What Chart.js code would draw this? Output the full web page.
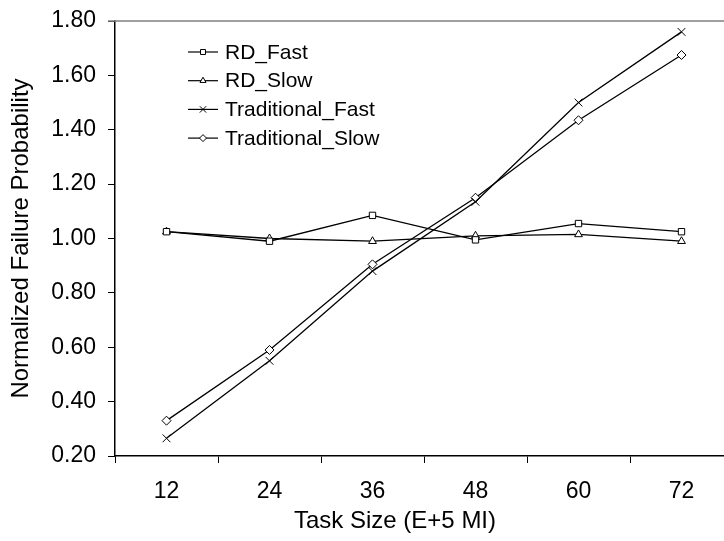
<!DOCTYPE html>
<html>
<head>
<meta charset="utf-8">
<script src="https://cdn.jsdelivr.net/npm/chart.js@4/dist/chart.umd.min.js"></script>
<style>
  html, body { margin: 0; padding: 0; background: #fff; overflow: hidden; }
  #wrap { width: 745px; height: 541px; }
</style>
</head>
<body>
<div id="wrap"><canvas id="failChart" width="745" height="541"></canvas></div>
<script>
// task sizes (E+5 MI)
const taskSizes = ["12", "24", "36", "48", "60", "72"];

const rdFast = [1.025, 0.99, 1.085, 0.995, 1.055, 1.025];
const rdSlow = [1.025, 1.00, 0.99, 1.01, 1.015, 0.99];
const tradFast = [0.265, 0.55, 0.88, 1.135, 1.50, 1.76];
const tradSlow = [0.33, 0.59, 0.905, 1.15, 1.435, 1.675];

const seriesNames = ["RD_Fast", "RD_Slow", "Traditional_Fast", "Traditional_Slow"];
const seriesMarks = ["rect", "triangle", "crossRot", "rectRot"];
const markSize = [4.5, 4.5, 5.5, 4.5];

const yTicks = [0.2, 0.4, 0.6, 0.8, 1.0, 1.2, 1.4, 1.6, 1.8];

const FONT = "'Liberation Sans', Arial, sans-serif";

function makeSet(i, data) {
  return {
    label: seriesNames[i],
    data: data,
    borderColor: "#000",
    borderWidth: 1.3,
    backgroundColor: "#fff",
    pointStyle: seriesMarks[i],
    pointRadius: markSize[i],
    pointBorderColor: "#000",
    pointBackgroundColor: "#fff",
    pointBorderWidth: 1,
    tension: 0,
    fill: false
  };
}

// gray frame on top/right, legend box and x title
const extras = {
  id: "extras",
  beforeDatasetsDraw(chart) {
    const ctx = chart.ctx, a = chart.chartArea;
    ctx.save();
    ctx.strokeStyle = "#808080";
    ctx.lineWidth = 1.5;
    ctx.beginPath();
    ctx.moveTo(a.left - 7, a.top);
    ctx.lineTo(a.right, a.top);
    ctx.lineTo(a.right, a.bottom);
    ctx.stroke();
    ctx.restore();
  },
  afterDraw(chart) {
    const ctx = chart.ctx, a = chart.chartArea;
    ctx.save();
    ctx.font = "21px " + FONT;
    ctx.fillStyle = "#000";
    ctx.textBaseline = "middle";
    const x0 = a.left + 73;
    chart.data.datasets.forEach((ds, i) => {
      const y = a.top + 31 + i * 28.7;
      ctx.strokeStyle = "#000";
      ctx.lineWidth = 1.2;
      ctx.beginPath();
      ctx.moveTo(x0, y);
      ctx.lineTo(x0 + 30, y);
      ctx.stroke();
      ctx.fillStyle = "#fff";
      ctx.lineWidth = 1;
      Chart.helpers.drawPoint(ctx, { pointStyle: ds.pointStyle, radius: ds.pointRadius - 1, borderWidth: 1 }, x0 + 15, y);
      ctx.fillStyle = "#000";
      ctx.fillText(ds.label, x0 + 37, y + 1);
    });
    ctx.font = "24px " + FONT;
    ctx.textAlign = "center";
    ctx.fillText("Task Size (E+5 MI)", 395, 521);
    ctx.restore();
  }
};

new Chart(document.getElementById("failChart"), {
  type: "line",
  data: {
    labels: taskSizes,
    datasets: [makeSet(0, rdFast), makeSet(1, rdSlow), makeSet(2, tradFast), makeSet(3, tradSlow)]
  },
  options: {
    responsive: false,
    animation: false,
    layout: { padding: { left: 0, top: 21, right: 12, bottom: 0 } },
    plugins: { legend: { display: false }, tooltip: { enabled: false } },
    scales: {
      x: {
        type: "category",
        offset: true,
        grid: { offset: true, drawOnChartArea: false, tickLength: 7, color: "#000", lineWidth: 1 },
        border: { display: true, color: "#000", width: 1.5 },
        ticks: { color: "#000", font: { family: FONT, size: 23 }, padding: 15, maxRotation: 0 },
        afterFit(s) { s.height = 85; s.paddingLeft = 0; s.paddingRight = 0; }
      },
      y: {
        min: 0.2,
        max: 1.8,
        afterBuildTicks(s) { s.ticks = yTicks.map(v => ({ value: v })); },
        grid: { drawOnChartArea: false, tickLength: 7, color: "#000", lineWidth: 1 },
        border: { display: true, color: "#000", width: 1.5 },
        ticks: {
          color: "#000",
          font: { family: FONT, size: 23 },
          padding: 12,
          callback: v => Number(v).toFixed(2)
        },
        title: {
          display: true,
          text: "Normalized Failure Probability",
          color: "#000",
          font: { family: FONT, size: 24 },
          padding: { top: 7, bottom: 0 }
        },
        afterFit(s) { s.width = 115; s.paddingTop = 0; s.paddingBottom = 0; }
      }
    }
  },
  plugins: [extras]
});
</script>
</body>
</html>
